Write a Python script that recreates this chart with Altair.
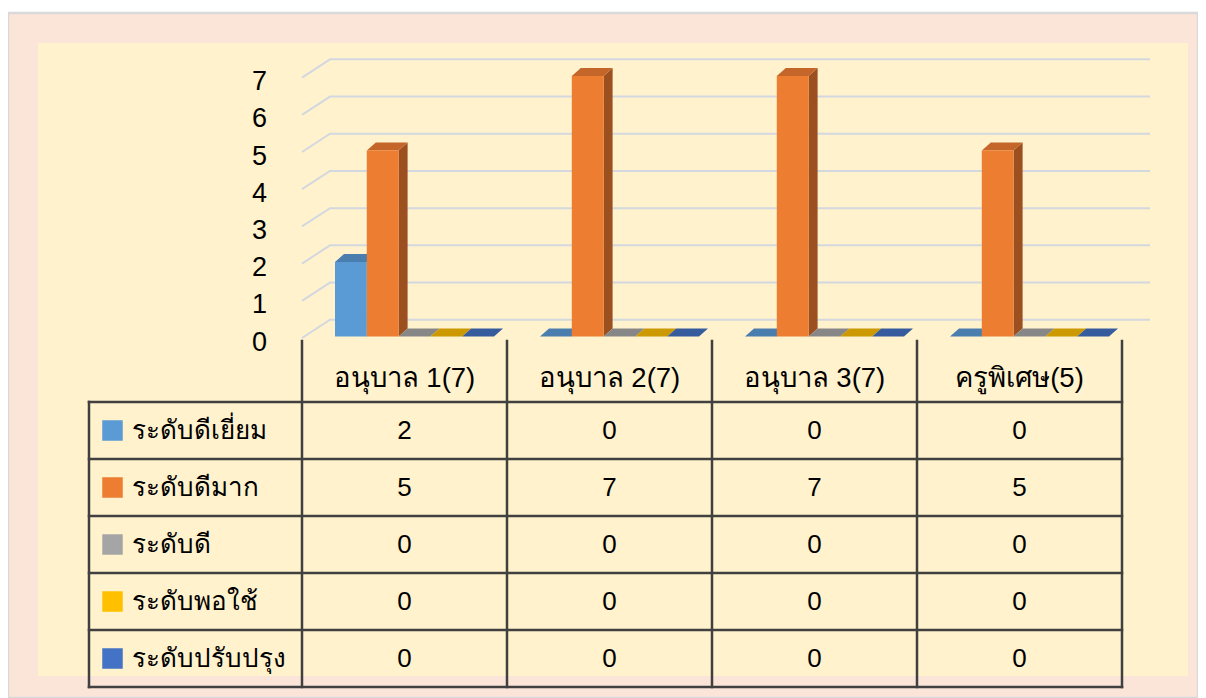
import altair as alt
import pandas as pd

# ---------------- data ----------------
categories = ["อนุบาล 1(7)", "อนุบาล 2(7)", "อนุบาล 3(7)", "ครูพิเศษ(5)"]
series_names = ["ระดับดีเยี่ยม", "ระดับดีมาก", "ระดับดี", "ระดับพอใช้", "ระดับปรับปรุง"]
excellent = [2, 0, 0, 0]
very_good = [5, 7, 7, 5]
good = [0, 0, 0, 0]
fair = [0, 0, 0, 0]
improve = [0, 0, 0, 0]
y_ticks = [0, 1, 2, 3, 4, 5, 6, 7]

front_colors = ["#5B9BD5", "#ED7D31", "#A5A5A5", "#FFC000", "#4472C4"]
top_colors = ["#4A7EAE", "#C4662A", "#878787", "#CC9A00", "#375C9E"]
side_colors = ["#3C6690", "#9C5020", "#6E6E6E", "#A67D00", "#2D4B80"]

series_values = [excellent, very_good, good, fair, improve]

# ---------------- layout ----------------
W, H = 1190, 690
PAD_TOP = 5
H_PLOT = H - PAD_TOP
X0, CAT_W = 294.0, 205.0          # local px of category boundary 0, px per category
V0, PX_V = 323.5, 37.2            # local px of value 0, px per unit
R0, ROW_H = 332.0, 57.0           # local px of table row boundary 0, px per row

BAR_OFF = 33.0 / CAT_W
BAR_W = 31.8 / CAT_W
DX = 9.0 / CAT_W
DY = 8.0 / PX_V
WALL_DX = 28.0 / CAT_W
FRONT_SHIFT = -0.04
BACK_SHIFT = 0.45
LEFT_COL = -213.0 / CAT_W

FONT = "Tahoma, 'Liberation Sans', 'DejaVu Sans', sans-serif"
LINE_COL = "#404040"

xs = alt.Scale(domain=[-X0 / CAT_W, (W - X0) / CAT_W], nice=False, zero=False)
vs = alt.Scale(domain=[(V0 - H_PLOT) / PX_V, V0 / PX_V], nice=False, zero=False)
ts = alt.Scale(domain=[-R0 / ROW_H, (H_PLOT - R0) / ROW_H], nice=False, zero=False, reverse=True)


def X(f, **kw):
    return alt.X(f, scale=xs, axis=None, **kw)


def YV(f, **kw):
    return alt.Y(f, scale=vs, axis=None, **kw)


def YT(f, **kw):
    return alt.Y(f, scale=ts, axis=None, **kw)


# ---------------- derived tables ----------------
n_cat = len(categories)
grid_rows = []
for t in y_ticks:
    grid_rows.append({"id": t, "x": 0.0, "y": t + FRONT_SHIFT})
    grid_rows.append({"id": t, "x": WALL_DX, "y": t + BACK_SHIFT})
    grid_rows.append({"id": t, "x": n_cat + WALL_DX, "y": t + BACK_SHIFT})
grid_df = pd.DataFrame(grid_rows)

front_rows, top_rows, side_rows = [], [], []
for si, vals in enumerate(series_values):
    for ci, v in enumerate(vals):
        x0 = ci + BAR_OFF + si * BAR_W
        x1 = x0 + BAR_W
        bid = f"{si}-{ci}"
        front_rows.append({"x0": x0, "x1": x1, "y0": 0, "y1": v, "col": front_colors[si]})
        top_rows.append({"id": bid, "y": v, "xa": x0, "xb": x1, "col": top_colors[si]})
        top_rows.append({"id": bid, "y": v + DY, "xa": x0 + DX, "xb": x1 + DX, "col": top_colors[si]})
        if v > 0:
            side_rows.append({"id": bid, "x": x1, "yt": v, "yb": 0, "col": side_colors[si]})
            side_rows.append({"id": bid, "x": x1 + DX, "yt": v + DY, "yb": DY, "col": side_colors[si]})
front_df = pd.DataFrame(front_rows)
top_df = pd.DataFrame(top_rows)
side_df = pd.DataFrame(side_rows)

tick_df = pd.DataFrame({"v": y_ticks, "label": [str(t) for t in y_ticks]})

# table lines
line_rows = []
for r in range(1, len(series_names) + 2):
    line_rows.append({"x": LEFT_COL, "x2": n_cat, "y": r, "y2": r})
for c in range(n_cat + 1):
    line_rows.append({"x": c, "x2": c, "y": -0.07, "y2": len(series_names) + 1})
line_rows.append({"x": LEFT_COL, "x2": LEFT_COL, "y": 1, "y2": len(series_names) + 1})
line_df = pd.DataFrame(line_rows)

head_df = pd.DataFrame({"x": [c + 0.5 for c in range(n_cat)], "r": [0.6] * n_cat, "label": categories})

num_rows = []
for si, vals in enumerate(series_values):
    for ci, v in enumerate(vals):
        num_rows.append({"x": ci + 0.5, "r": si + 1.5, "label": str(v)})
num_df = pd.DataFrame(num_rows)

leg_df = pd.DataFrame({
    "x": [LEFT_COL + 23.5 / CAT_W] * len(series_names),
    "xt": [LEFT_COL + 43.0 / CAT_W] * len(series_names),
    "r": [i + 1.5 for i in range(len(series_names))],
    "label": series_names,
    "col": front_colors,
})

# ---------------- layers ----------------
panel = alt.Chart(pd.DataFrame({"a": [0]})).mark_rect(fill="#FFF2CC").encode(
    x=alt.value(30), x2=alt.value(1180), y=alt.value(30), y2=alt.value(663)
)

grid = alt.Chart(grid_df).mark_line(color="#D3D8E0", strokeWidth=2).encode(
    x=X("x:Q"), y=YV("y:Q"), detail="id:N", order="x:Q"
)

sides = alt.Chart(side_df).mark_area(orient="vertical").encode(
    x=X("x:Q"), y=YV("yt:Q", stack=None), y2="yb:Q", detail="id:N",
    color=alt.Color("col:N", scale=None)
)

tops = alt.Chart(top_df).mark_area(orient="horizontal").encode(
    y=YV("y:Q"), x=X("xa:Q", stack=None), x2="xb:Q", detail="id:N",
    color=alt.Color("col:N", scale=None)
)

fronts = alt.Chart(front_df).mark_rect().encode(
    x=X("x0:Q"), x2="x1:Q", y=YV("y0:Q"), y2="y1:Q",
    color=alt.Color("col:N", scale=None)
)

ticks = alt.Chart(tick_df).mark_text(
    font=FONT, fontSize=27, align="right", baseline="middle", dy=6, color="#000000"
).encode(
    x=alt.X("xx:Q", scale=xs, axis=None), y=YV("v:Q"), text="label:N"
).transform_calculate(xx=str(-35.0 / CAT_W))

lines = alt.Chart(line_df).mark_rule(color=LINE_COL, strokeWidth=2.5, strokeCap="square").encode(
    x=X("x:Q"), x2="x2:Q", y=YT("y:Q"), y2="y2:Q"
)

heads = alt.Chart(head_df).mark_text(
    font=FONT, fontSize=27.5, align="center", baseline="middle", color="#000000"
).encode(x=X("x:Q"), y=YT("r:Q"), text="label:N")

nums = alt.Chart(num_df).mark_text(
    font=FONT, fontSize=26, align="center", baseline="middle", color="#000000"
).encode(x=X("x:Q"), y=YT("r:Q"), text="label:N")

leg_sq = alt.Chart(leg_df).mark_square(size=420, opacity=1).encode(
    x=X("x:Q"), y=YT("r:Q"), color=alt.Color("col:N", scale=None)
)

leg_txt = alt.Chart(leg_df).mark_text(
    font=FONT, fontSize=26, align="left", baseline="middle", color="#000000"
).encode(x=X("xt:Q"), y=YT("r:Q"), text="label:N")

chart = alt.layer(
    panel, grid, sides, tops, fronts, ticks, lines, heads, nums, leg_sq, leg_txt
).resolve_scale(y="independent").properties(
    width=W, height=H,
    padding={"top": PAD_TOP, "left": 0, "right": 0, "bottom": 0},
    autosize=alt.AutoSizeParams(type="fit", contains="padding"),
    background="#FFFFFF",
).configure_view(fill="#FAE5D8", stroke="#D9D9D9", strokeWidth=2.5)

chart.save("out.html", embed_options={"renderer": "svg", "actions": False})
